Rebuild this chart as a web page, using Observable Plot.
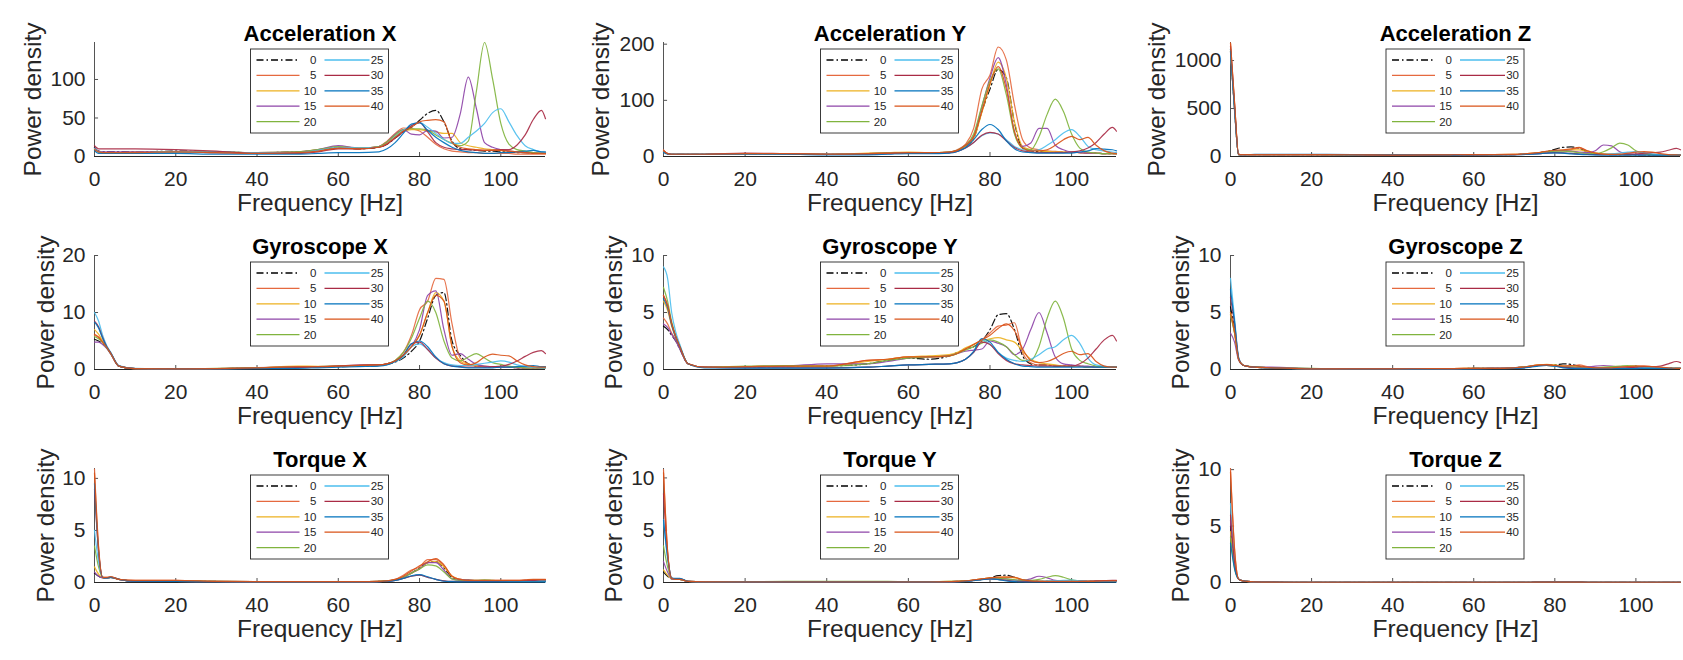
<!DOCTYPE html>
<html><head><meta charset="utf-8">
<script src="https://cdn.jsdelivr.net/npm/d3@7"></script>
<script src="https://cdn.jsdelivr.net/npm/@observablehq/plot@0.6"></script>
<style>
body{margin:0;background:#fff;}
#root{position:relative;width:1683px;height:660px;overflow:hidden;background:#fff;}
</style></head><body><div id="root"></div>
<script>
// Frequency grid [Hz]
const freq = [0,1,2,3,4,6,10, 20,30,40,50,55,60,65, 70,72,74,76,78,80,82, 84,86,88,90,92,94,96, 98,100,102,104,106,108,110,111];
const seriesKeys = [0,5,10,15,20,25,30,35,40];
const seriesColors = ["#000000","#E5693F","#EDB120","#8E44A8","#80B43E","#4DBEEE","#A92B45","#0072BD","#D95319"];
const panelTitles = ["Acceleration X","Acceleration Y","Acceleration Z","Gyroscope X","Gyroscope Y","Gyroscope Z","Torque X","Torque Y","Torque Z"];
const yMaxes = [148, 203, 1188, 20, 10, 10, 10.95, 10.9, 10.1];
const yTickSets = [[0,50,100],[0,100,200],[0,500,1000],[0,10,20],[0,5,10],[0,5,10],[0,5,10],[0,5,10],[0,5,10]];
const xTicks = [0,20,40,60,80,100];
const xLabel = "Frequency [Hz]";
const yLabel = "Power density";

const accX = [
[12,7,6,6,6,6,6, 7,6,5,6,8,12,10, 12,16,24,32,38,47,56, 60,45,20,10,9,8,7, 7,6,6,5,5,4,4,4],
[10,6,5,5,5,5,5, 6,5,4,5,7,11,10, 13,20,30,37,36,33,25, 16,10,7,6,5,5,4, 4,4,4,3,3,3,3,3],
[9,6,5,5,5,5,6, 6,6,5,6,9,13,11, 13,19,27,33,35,35,33, 32,30,30,18,14,12,10, 9,8,7,6,5,5,4,4],
[11,7,6,6,6,6,6, 6,5,5,6,9,14,11, 13,19,29,35,29,28,34, 33,24,25,55,103,62,18, 12,9,7,6,5,5,4,4],
[10,6,5,5,5,5,5, 6,6,5,6,9,13,11, 13,19,28,35,36,36,34, 28,22,17,14,20,85,148, 100,43,16,9,7,5,4,4],
[10,6,5,5,5,5,5, 6,6,5,5,8,12,11, 12,17,26,34,40,44,38, 30,22,17,17,25,33,43, 57,62,45,27,14,9,6,5],
[14,10,10,10,10,10,10, 9,7,4,4,6,10,10, 12,16,24,32,40,44,32, 18,12,10,9,9,8,8, 8,9,9,15,28,48,60,49],
[8,4,4,4,4,4,4, 4,3,3,3,4,5,5, 6,10,18,30,42,44,34, 25,18,12,8,6,5,4, 4,5,5,6,7,8,6,6],
[9,6,5,5,5,5,5, 6,5,4,5,7,11,10, 12,17,25,33,38,45,47, 48,45,18,12,10,9,8, 8,8,7,6,5,4,4,4]
];
const accY = [
[10,5,4,4,4,4,4, 5,4,4,4,6,7,6, 7,10,18,32,80,120,155, 140,60,15,10,9,8,8, 8,8,7,6,6,5,5,5],
[12,5,4,4,4,4,4, 5,4,4,5,6,7,6, 8,12,22,50,120,145,195, 172,92,30,15,12,10,9, 8,8,7,6,6,5,5,5],
[9,5,4,4,4,4,4, 5,5,4,6,7,8,7, 8,11,18,32,78,128,168, 140,62,18,12,10,9,8, 8,8,7,6,6,5,5,5],
[8,5,4,4,4,4,4, 5,5,4,5,6,7,6, 8,11,20,36,88,140,176, 128,42,18,24,50,50,20, 12,8,7,6,6,5,5,5],
[9,5,4,4,4,4,4, 5,5,4,5,6,7,7, 8,11,20,40,90,135,156, 110,40,15,12,35,75,102, 80,40,15,8,6,5,5,5],
[8,5,4,4,4,4,4, 5,4,4,4,5,6,6, 7,9,15,25,37,42,40, 30,18,12,10,12,20,30, 42,48,36,18,12,10,8,7],
[10,5,4,4,4,4,4, 6,5,4,4,5,6,6, 7,9,15,25,38,43,40, 28,16,10,8,7,7,7, 7,8,10,15,25,40,52,45],
[7,4,4,4,4,4,4, 4,4,3,3,4,5,5, 6,9,16,30,48,57,48, 28,14,8,7,6,6,6, 6,6,8,10,14,13,12,10],
[11,5,4,4,4,4,4, 5,5,4,5,6,7,7, 8,11,20,35,80,130,160, 120,45,15,10,10,12,20, 30,36,30,34,20,10,6,5]
];
const accZ = [
[1120,500,20,18,18,18,18, 18,16,14,15,16,18,18, 20,25,30,38,50,75,95, 100,85,50,30,22,20,18, 18,18,16,15,15,14,14,14],
[1180,560,22,20,20,20,20, 20,18,15,18,18,20,20, 22,26,32,40,55,60,60, 70,90,60,35,25,22,20, 20,22,25,20,18,16,15,15],
[1100,500,20,18,18,18,18, 18,17,15,18,18,20,20, 22,26,32,40,50,60,65, 70,70,50,35,28,25,22, 20,20,18,17,16,15,15,15],
[1090,480,20,18,18,18,18, 18,16,14,15,16,18,18, 20,24,30,38,48,58,60, 55,45,40,60,120,110,50, 30,22,18,16,15,15,14,14],
[1100,500,20,18,18,18,18, 18,17,15,16,17,18,18, 20,24,30,38,48,55,55, 50,40,30,30,50,90,140, 120,60,30,20,18,16,15,15],
[1120,510,22,20,20,20,20, 20,18,15,15,16,18,18, 20,22,26,30,36,40,38, 34,28,22,20,22,28,36, 45,50,40,28,20,16,15,14],
[1150,540,22,20,20,20,20, 20,18,15,15,16,17,18, 20,22,26,30,36,40,38, 32,26,22,20,18,18,18, 20,25,35,40,45,65,85,70],
[1100,490,20,20,20,22,22, 22,20,16,15,15,16,16, 18,20,24,28,34,38,35, 28,22,18,16,15,15,15, 15,15,15,15,15,15,15,15],
[1185,560,22,20,20,20,20, 20,18,15,16,18,20,20, 22,26,32,42,55,65,70, 80,95,60,35,25,22,25, 35,45,50,45,30,20,16,15]
];
const gyroX = [
[5.3,5,4.6,3.8,2.8,0.6,0.15, 0.1,0.15,0.25,0.35,0.45,0.5,0.6, 0.7,0.9,1.3,2,3.2,5,9, 13,13.5,5,2.5,1,0.6,0.5, 0.4,0.4,0.4,0.3,0.3,0.3,0.3,0.3],
[6,5.6,4.8,3.9,2.8,0.6,0.15, 0.1,0.15,0.3,0.45,0.5,0.6,0.7, 0.8,1,1.6,3,6,10.5,12, 16,15.8,8,2,1,0.6,0.5, 0.4,0.4,0.4,0.3,0.3,0.3,0.3,0.3],
[7,6.2,5,4,2.9,0.6,0.15, 0.1,0.15,0.3,0.6,0.55,0.6,0.7, 0.8,1,1.5,2.5,4,6,10, 13.5,12,4,1.5,0.9,0.7,0.6, 0.5,0.5,0.4,0.4,0.3,0.3,0.3,0.3],
[4.8,4.8,4.4,3.7,2.7,0.6,0.15, 0.1,0.15,0.35,0.45,0.5,0.6,0.7, 0.8,1,1.5,2.5,4,7,13, 13.8,7,2.5,2.8,1.8,0.9,0.6, 0.5,0.4,0.4,0.3,0.3,0.3,0.3,0.3],
[5.8,5.4,4.7,3.8,2.8,0.6,0.15, 0.12,0.2,0.3,0.4,0.5,0.6,0.7, 0.8,1,1.6,3,5.5,9,12, 10,5,2,1.5,2.2,2.8,2, 1.2,0.9,0.6,0.4,0.3,0.3,0.3,0.3],
[10,8.5,6,4.2,3,0.7,0.2, 0.1,0.15,0.2,0.3,0.4,0.5,0.6, 0.7,0.9,1.4,2.2,4,4.5,3.5, 2,1.2,0.8,0.7,0.7,0.9,1.1, 1.3,1.5,1.3,0.8,0.5,0.4,0.3,0.3],
[8.5,7.5,5.6,4,2.9,0.6,0.15, 0.1,0.15,0.2,0.35,0.45,0.6,0.8, 0.8,1,1.5,2.5,4.5,4.8,3.5, 2,1,0.6,0.5,0.4,0.4,0.4, 0.5,0.6,0.9,1.5,2.3,3,3.3,2.8],
[8.3,7.3,5.5,4,2.9,0.6,0.15, 0.1,0.1,0.15,0.2,0.3,0.4,0.5, 0.6,0.8,1.4,2.5,4.5,5,4, 2.2,1,0.6,0.4,0.3,0.3,0.3, 0.3,0.4,0.4,0.5,0.6,0.7,0.5,0.5],
[6.2,5.7,4.8,3.9,2.8,0.6,0.15, 0.1,0.15,0.3,0.5,0.5,0.6,0.7, 0.8,1,1.5,2.5,4,6,10, 13,12,4,1.2,0.8,1.2,2.2, 2.7,2.5,2.4,1.5,0.8,0.5,0.4,0.4]
];
const gyroY = [
[3.8,3.5,3,2.5,1.8,0.5,0.2, 0.2,0.25,0.3,0.5,0.8,1,0.9, 1.2,1.5,1.8,2,2.5,3.5,4.8, 4.9,3.5,1.2,0.5,0.4,0.4,0.3, 0.3,0.3,0.3,0.2,0.2,0.2,0.2,0.2],
[4.5,4,3.2,2.6,1.9,0.5,0.2, 0.25,0.3,0.3,0.8,0.9,1.1,1.1, 1.2,1.4,1.8,2.2,2.6,3.2,3.8, 3.9,4.1,1.5,0.6,0.4,0.4,0.3, 0.3,0.3,0.3,0.2,0.2,0.2,0.2,0.2],
[6,5.2,3.8,2.8,2,0.5,0.2, 0.25,0.3,0.3,0.7,0.9,1.1,1.2, 1.3,1.5,1.9,2.2,2.5,2.7,2.8, 2.6,2.4,1.6,0.9,0.6,0.5,0.4, 0.3,0.3,0.3,0.2,0.2,0.2,0.2,0.2],
[4,3.7,3.1,2.5,1.8,0.5,0.2, 0.25,0.3,0.5,0.5,0.7,1,1.1, 1.2,1.4,1.6,1.7,1.8,2.5,2.3, 2,1.3,1.8,3.5,5,3.2,1.1, 0.5,0.4,0.3,0.3,0.2,0.2,0.2,0.2],
[7.2,6,4.2,3,2.1,0.5,0.2, 0.3,0.35,0.3,0.5,0.8,1,1.1, 1.2,1.4,1.7,2,2.3,2.6,2.4, 2,1.3,0.8,0.8,2,4.5,6, 4.5,1.8,0.8,0.5,0.3,0.2,0.2,0.2],
[9,8,5,3.3,2.2,0.5,0.2, 0.15,0.15,0.15,0.2,0.3,0.4,0.45, 0.5,0.6,0.9,1.5,2.6,2.2,1.5, 1,0.8,0.7,0.9,1.3,1.8,2, 2.6,3,2.3,1,0.4,0.3,0.2,0.2],
[6.5,5.6,4,2.9,2,0.5,0.2, 0.15,0.15,0.15,0.2,0.3,0.4,0.45, 0.5,0.6,0.9,1.5,2.4,2.2,1.4, 0.8,0.5,0.4,0.35,0.3,0.3,0.3, 0.3,0.3,0.5,1,1.8,2.6,3,2.5],
[6.2,5.4,3.9,2.8,2,0.5,0.15, 0.12,0.12,0.12,0.2,0.3,0.4,0.45, 0.5,0.6,0.9,1.6,2.7,2.4,1.5, 0.9,0.5,0.3,0.25,0.2,0.2,0.2, 0.2,0.2,0.2,0.2,0.2,0.2,0.2,0.2],
[6.5,5.6,4,2.9,2,0.5,0.2, 0.25,0.3,0.3,0.8,0.9,1.1,1.1, 1.2,1.4,1.8,2.2,2.6,3,3.6, 4,3.4,1.8,0.8,0.6,0.7,1, 1.4,1.6,1.3,1.4,0.7,0.3,0.2,0.2]
];
const gyroZ = [
[5.5,3.5,1,0.4,0.3,0.2,0.15, 0.05,0.05,0.05,0.06,0.07,0.1,0.1, 0.15,0.2,0.25,0.35,0.4,0.4,0.5, 0.45,0.3,0.2,0.15,0.15,0.15,0.15, 0.15,0.15,0.15,0.15,0.12,0.12,0.1,0.1],
[4.8,3.2,0.9,0.4,0.3,0.2,0.15, 0.05,0.05,0.05,0.08,0.08,0.1,0.1, 0.15,0.2,0.3,0.4,0.4,0.35,0.3, 0.3,0.4,0.25,0.15,0.15,0.15,0.2, 0.25,0.3,0.3,0.25,0.15,0.1,0.1,0.1],
[5,3.3,0.9,0.4,0.3,0.2,0.15, 0.05,0.05,0.05,0.08,0.08,0.1,0.1, 0.15,0.2,0.3,0.4,0.45,0.4,0.3, 0.25,0.2,0.15,0.12,0.12,0.12,0.12, 0.12,0.12,0.12,0.1,0.1,0.1,0.1,0.1],
[3.2,2.4,0.8,0.4,0.3,0.2,0.2, 0.08,0.05,0.05,0.06,0.07,0.1,0.12, 0.15,0.2,0.3,0.35,0.35,0.3,0.25, 0.2,0.15,0.2,0.3,0.35,0.3,0.2, 0.15,0.15,0.15,0.12,0.1,0.1,0.1,0.1],
[4.8,3.2,0.9,0.4,0.3,0.25,0.15, 0.1,0.05,0.05,0.06,0.07,0.1,0.1, 0.15,0.2,0.3,0.35,0.35,0.3,0.25, 0.2,0.2,0.15,0.15,0.2,0.25,0.3, 0.35,0.3,0.2,0.15,0.1,0.1,0.1,0.1],
[8,4.5,1.1,0.4,0.3,0.2,0.15, 0.05,0.05,0.05,0.05,0.06,0.08,0.1, 0.12,0.15,0.25,0.35,0.35,0.3,0.2, 0.15,0.12,0.12,0.12,0.12,0.12,0.12, 0.12,0.15,0.15,0.15,0.12,0.1,0.1,0.1],
[6.3,4,1,0.4,0.3,0.2,0.15, 0.05,0.05,0.05,0.05,0.06,0.08,0.1, 0.12,0.15,0.25,0.35,0.4,0.35,0.2, 0.15,0.12,0.1,0.1,0.1,0.1,0.1, 0.15,0.2,0.25,0.25,0.3,0.5,0.7,0.6],
[7,4.2,1,0.4,0.3,0.2,0.12, 0.05,0.04,0.04,0.04,0.05,0.06,0.08, 0.1,0.12,0.2,0.3,0.35,0.3,0.15, 0.1,0.08,0.08,0.08,0.08,0.08,0.08, 0.08,0.08,0.1,0.1,0.1,0.1,0.1,0.1],
[5,3.3,0.9,0.4,0.3,0.2,0.15, 0.05,0.05,0.05,0.08,0.08,0.1,0.1, 0.15,0.2,0.3,0.4,0.4,0.35,0.3, 0.35,0.3,0.2,0.15,0.15,0.15,0.2, 0.25,0.3,0.3,0.25,0.2,0.15,0.1,0.1]
];
const torqueX = [
[0.9,0.6,0.45,0.45,0.5,0.3,0.15, 0.15,0.1,0.08,0.08,0.08,0.08,0.08, 0.1,0.15,0.25,0.5,0.9,1.4,1.9, 2,1.4,0.5,0.25,0.2,0.15,0.15, 0.15,0.15,0.15,0.15,0.15,0.15,0.15,0.15],
[10.9,3.5,0.5,0.5,0.55,0.3,0.2, 0.2,0.1,0.08,0.08,0.08,0.08,0.08, 0.1,0.15,0.3,0.7,1.2,1.5,2.2, 2.2,1.6,0.6,0.3,0.25,0.2,0.2, 0.2,0.2,0.2,0.2,0.2,0.25,0.25,0.25],
[1.5,0.8,0.45,0.45,0.5,0.3,0.15, 0.15,0.1,0.08,0.08,0.08,0.08,0.08, 0.1,0.15,0.25,0.5,0.9,1.3,1.9, 2,1.5,0.6,0.3,0.2,0.15,0.15, 0.15,0.15,0.15,0.15,0.15,0.15,0.15,0.15],
[1,0.6,0.45,0.45,0.5,0.3,0.15, 0.15,0.1,0.08,0.08,0.08,0.08,0.08, 0.1,0.15,0.25,0.5,0.9,1.3,1.9, 1.9,1.2,0.35,0.3,0.25,0.15,0.12, 0.12,0.12,0.12,0.12,0.12,0.12,0.12,0.12],
[3.5,1.5,0.5,0.45,0.5,0.3,0.15, 0.15,0.1,0.08,0.08,0.08,0.08,0.08, 0.1,0.15,0.25,0.5,0.9,1.3,1.7, 1.6,1,0.35,0.2,0.2,0.2,0.25, 0.2,0.15,0.15,0.15,0.15,0.15,0.15,0.15],
[5,2,0.5,0.45,0.5,0.3,0.12, 0.1,0.08,0.06,0.06,0.06,0.06,0.06, 0.08,0.12,0.2,0.4,0.6,0.7,0.5, 0.3,0.15,0.1,0.1,0.1,0.1,0.1, 0.1,0.1,0.1,0.1,0.12,0.15,0.15,0.15],
[9,3,0.5,0.45,0.5,0.3,0.12, 0.1,0.08,0.06,0.06,0.06,0.06,0.06, 0.08,0.12,0.2,0.4,0.6,0.7,0.5, 0.3,0.15,0.1,0.1,0.1,0.1,0.1, 0.1,0.12,0.15,0.15,0.2,0.2,0.25,0.25],
[9.5,3,0.5,0.45,0.5,0.3,0.12, 0.1,0.08,0.06,0.06,0.06,0.06,0.06, 0.08,0.12,0.2,0.4,0.65,0.75,0.55, 0.3,0.12,0.08,0.06,0.06,0.06,0.06, 0.06,0.06,0.06,0.06,0.06,0.06,0.06,0.06],
[10.5,3.3,0.5,0.5,0.55,0.3,0.2, 0.2,0.1,0.08,0.08,0.08,0.08,0.08, 0.1,0.15,0.3,0.6,1.1,1.6,2, 2.3,1.7,0.6,0.3,0.2,0.2,0.2, 0.2,0.2,0.2,0.2,0.25,0.3,0.3,0.3]
];
const torqueY = [
[1,0.6,0.35,0.3,0.3,0.1,0.06, 0.05,0.05,0.05,0.05,0.05,0.05,0.05, 0.08,0.1,0.15,0.2,0.3,0.45,0.65, 0.7,0.5,0.25,0.15,0.12,0.1,0.1, 0.1,0.1,0.1,0.1,0.1,0.1,0.1,0.1],
[10.8,3,0.4,0.3,0.3,0.1,0.06, 0.05,0.05,0.05,0.05,0.05,0.05,0.05, 0.08,0.1,0.15,0.25,0.35,0.45,0.5, 0.55,0.5,0.2,0.15,0.12,0.1,0.1, 0.1,0.1,0.1,0.1,0.12,0.15,0.15,0.15],
[1.2,0.7,0.35,0.3,0.3,0.1,0.06, 0.05,0.08,0.08,0.08,0.08,0.08,0.08, 0.1,0.12,0.15,0.25,0.35,0.45,0.5, 0.5,0.45,0.25,0.15,0.12,0.1,0.1, 0.1,0.1,0.1,0.1,0.1,0.1,0.1,0.1],
[2,1,0.35,0.3,0.3,0.1,0.06, 0.05,0.05,0.05,0.05,0.05,0.05,0.05, 0.08,0.1,0.15,0.2,0.3,0.4,0.4, 0.35,0.25,0.2,0.35,0.6,0.45,0.2, 0.12,0.1,0.1,0.1,0.1,0.1,0.1,0.1],
[3.5,1.5,0.4,0.3,0.3,0.1,0.06, 0.08,0.1,0.1,0.1,0.1,0.08,0.08, 0.1,0.12,0.15,0.2,0.3,0.4,0.4, 0.35,0.25,0.2,0.2,0.3,0.5,0.65, 0.5,0.25,0.15,0.1,0.1,0.1,0.1,0.1],
[6,2.2,0.4,0.35,0.35,0.1,0.05, 0.04,0.04,0.04,0.04,0.04,0.04,0.04, 0.06,0.08,0.12,0.2,0.3,0.35,0.3, 0.2,0.15,0.12,0.12,0.12,0.15,0.18, 0.2,0.22,0.18,0.12,0.1,0.1,0.1,0.1],
[8.5,2.8,0.4,0.35,0.35,0.1,0.05, 0.04,0.04,0.04,0.04,0.04,0.04,0.04, 0.06,0.08,0.12,0.2,0.3,0.35,0.3, 0.2,0.12,0.1,0.08,0.08,0.08,0.08, 0.08,0.08,0.1,0.12,0.15,0.18,0.2,0.2],
[6,2.5,0.45,0.4,0.4,0.1,0.04, 0.03,0.03,0.03,0.03,0.03,0.03,0.03, 0.05,0.07,0.1,0.18,0.28,0.35,0.28, 0.15,0.08,0.05,0.05,0.05,0.05,0.05, 0.05,0.05,0.05,0.05,0.05,0.05,0.05,0.05],
[10.5,3,0.4,0.3,0.3,0.1,0.06, 0.05,0.05,0.05,0.05,0.05,0.05,0.05, 0.08,0.1,0.15,0.25,0.35,0.45,0.5, 0.5,0.5,0.25,0.15,0.12,0.1,0.1, 0.1,0.1,0.1,0.1,0.12,0.15,0.15,0.15]
];
const torqueZ = [
[5.0,1.6,0.3,0.15,0.1,0.05,0.03, 0.02,0.02,0.02,0.02,0.02,0.02,0.02, 0.02,0.02,0.02,0.03,0.03,0.04,0.04, 0.04,0.03,0.02,0.02,0.02,0.02,0.02, 0.02,0.02,0.02,0.02,0.02,0.02,0.02,0.02],
[10.1,3.0,0.3,0.15,0.1,0.05,0.03, 0.02,0.02,0.02,0.02,0.02,0.02,0.02, 0.02,0.02,0.02,0.03,0.03,0.04,0.04, 0.04,0.03,0.02,0.02,0.02,0.02,0.02, 0.02,0.02,0.02,0.02,0.02,0.02,0.02,0.02],
[4.5,1.4,0.3,0.15,0.1,0.05,0.03, 0.02,0.02,0.02,0.02,0.02,0.02,0.02, 0.02,0.02,0.02,0.03,0.03,0.04,0.04, 0.04,0.03,0.02,0.02,0.02,0.02,0.02, 0.02,0.02,0.02,0.02,0.02,0.02,0.02,0.02],
[5.5,1.7,0.3,0.15,0.1,0.05,0.03, 0.02,0.02,0.02,0.02,0.02,0.02,0.02, 0.02,0.02,0.02,0.03,0.03,0.04,0.04, 0.04,0.03,0.02,0.02,0.02,0.02,0.02, 0.02,0.02,0.02,0.02,0.02,0.02,0.02,0.02],
[4.0,1.3,0.3,0.15,0.1,0.05,0.03, 0.02,0.02,0.02,0.02,0.02,0.02,0.02, 0.02,0.02,0.02,0.03,0.03,0.04,0.04, 0.04,0.03,0.02,0.02,0.02,0.02,0.02, 0.02,0.02,0.02,0.02,0.02,0.02,0.02,0.02],
[7.0,2.0,0.3,0.15,0.1,0.05,0.03, 0.02,0.02,0.02,0.02,0.02,0.02,0.02, 0.02,0.02,0.02,0.03,0.03,0.04,0.04, 0.04,0.03,0.02,0.02,0.02,0.02,0.02, 0.02,0.02,0.02,0.02,0.02,0.02,0.02,0.02],
[6.0,1.8,0.3,0.15,0.1,0.05,0.03, 0.02,0.02,0.02,0.02,0.02,0.02,0.02, 0.02,0.02,0.02,0.03,0.03,0.04,0.04, 0.04,0.03,0.02,0.02,0.02,0.02,0.02, 0.02,0.02,0.02,0.02,0.02,0.02,0.02,0.02],
[3.5,1.2,0.3,0.15,0.1,0.05,0.03, 0.02,0.02,0.02,0.02,0.02,0.02,0.02, 0.02,0.02,0.02,0.03,0.03,0.04,0.04, 0.04,0.03,0.02,0.02,0.02,0.02,0.02, 0.02,0.02,0.02,0.02,0.02,0.02,0.02,0.02],
[9.8,2.9,0.3,0.15,0.1,0.05,0.03, 0.02,0.02,0.02,0.02,0.02,0.02,0.02, 0.02,0.02,0.02,0.03,0.03,0.04,0.04, 0.04,0.03,0.02,0.02,0.02,0.02,0.02, 0.02,0.02,0.02,0.02,0.02,0.02,0.02,0.02]
];
const panelData = [accX, accY, accZ, gyroX, gyroY, gyroZ, torqueX, torqueY, torqueZ];

// layout
const FONT = "'Liberation Sans', Arial, Helvetica, sans-serif";
const W = 561, H = 234, mTop = 42, mBottom = 78;
const colX = [0, 561, 1122], rowY = [0, 213, 426];
const mLeft = [94, 102, 108], mRight = [16, 6, 3];
const yLabelOffset = [-61, -62, -73, -48, -49, -49, -48, -49, -49];
const XMAX = 111;
const TEXT = "#262626";

function legendMark(L, T) {
  return function () {
    const g = d3.create("svg:g");
    g.append("rect").attr("x", L).attr("y", T).attr("width", 138).attr("height", 84)
      .attr("fill", "white").attr("stroke", "#262626").attr("stroke-width", 0.9);
    seriesKeys.forEach((k, i) => {
      const col = i < 5 ? 0 : 1, row = i < 5 ? i : i - 5;
      const y = T + 11 + row * 15.4;
      const x0 = L + (col ? 74 : 6), x1 = L + (col ? 119 : 49), xt = L + (col ? 133 : 66);
      const ln = g.append("line").attr("x1", x0).attr("x2", x1).attr("y1", y).attr("y2", y)
        .attr("stroke", seriesColors[i]).attr("stroke-width", 1.3);
      if (i === 0) ln.attr("stroke-dasharray", "7,3,1.5,3");
      g.append("text").attr("x", xt).attr("y", y).attr("dy", "0.35em").attr("text-anchor", "end")
        .attr("font-size", 11.5).attr("font-family", FONT).attr("fill", TEXT).text(String(k));
    });
    return g.node();
  };
}

const root = document.getElementById("root");
panelData.forEach((vals, p) => {
  const r = Math.floor(p / 3), c = p % 3;
  const yMax = yMaxes[p];
  const plotW = W - mLeft[c] - mRight[c];
  const series = vals.map((arr, si) => arr.map((v, i) => ({f: freq[i], v, s: seriesKeys[si]})));
  const lineMarks = series.map((rows, si) => Plot.line(rows, {
    x: "f", y: "v", curve: "monotone-x",
    stroke: seriesColors[si], strokeWidth: 1.2, strokeOpacity: 0.92,
    strokeDasharray: si === 0 ? "7,3,1.5,3" : null
  }));
  const svg = Plot.plot({
    width: W, height: H,
    marginLeft: mLeft[c], marginRight: mRight[c], marginTop: mTop, marginBottom: mBottom,
    style: {background: "transparent", overflow: "visible", fontFamily: FONT, color: TEXT},
    x: {domain: [0, XMAX]},
    y: {domain: [0, yMax]},
    marks: [
      Plot.axisX(xTicks, {tickSize: 0, tickPadding: 15, fontSize: 21, label: null, fill: TEXT, tickFormat: d => String(d)}),
      Plot.axisY(yTickSets[p], {tickSize: 0, tickPadding: 9, fontSize: 21, label: null, fill: TEXT, tickFormat: d => String(d)}),
      Plot.ruleX(xTicks, {x: d => d, y1: 0, y2: yMax * 0.035, stroke: TEXT, strokeWidth: 0.8}),
      Plot.ruleY(yTickSets[p], {y: d => d, x1: 0, x2: XMAX * 0.009, stroke: TEXT, strokeWidth: 0.8}),
      Plot.ruleY([0], {stroke: TEXT, strokeWidth: 1}),
      Plot.ruleX([0], {stroke: "#555", strokeWidth: 1}),
      ...lineMarks,
      legendMark(mLeft[c] + plotW / 2 - 69, mTop + 7),
      Plot.text([panelTitles[p]], {text: d => d, frameAnchor: "top", dy: -17, fontSize: 22, fontWeight: "bold", fill: "#000"}),
      Plot.text([xLabel], {text: d => d, frameAnchor: "bottom", dy: 54, fontSize: 24.5, fill: TEXT}),
      Plot.text([yLabel], {text: d => d, frameAnchor: "left", textAnchor: "middle", dx: yLabelOffset[p], rotate: -90, fontSize: 24.5, fill: TEXT})
    ]
  });
  svg.style.position = "absolute";
  svg.style.left = colX[c] + "px";
  svg.style.top = rowY[r] + "px";
  root.appendChild(svg);
});
</script>
</body></html>
